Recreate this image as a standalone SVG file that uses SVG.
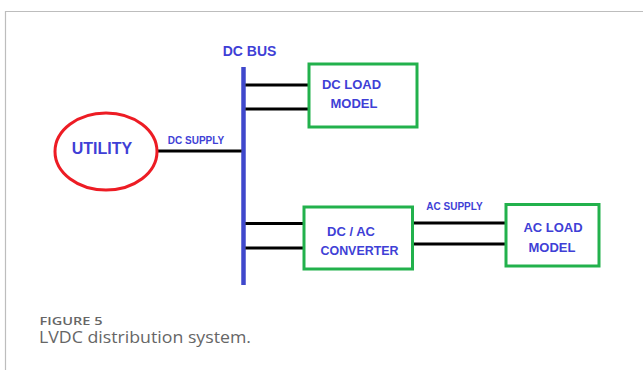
<svg xmlns="http://www.w3.org/2000/svg" width="643" height="370" viewBox="0 0 643 370">
  <style>
    .frame { stroke: #bdbdbd; stroke-width: 1.2; fill: none; }
    .wire { stroke: #000; stroke-width: 3; fill: none; }
    .bus { stroke: #3f48cc; stroke-width: 4.5; fill: none; }
    .box { stroke: #22b14c; stroke-width: 3; fill: #fff; }
    .src { stroke: #ed1c24; stroke-width: 3; fill: #fff; }
    .lbl { font-family: "Liberation Sans", Arial, sans-serif; font-weight: bold; fill: #3f3fd6; text-anchor: middle; }
    .cap { font-family: "Open Sans", "Liberation Sans", sans-serif; fill: #666; }
  </style>

  <!-- page frame -->
  <path class="frame" d="M5.5 370 V11.5 H643"/>

  <!-- connectors -->
  <g id="connectors">
    <line class="bus" x1="243.5" y1="67" x2="243.5" y2="285"/>
    <line class="wire" x1="157" y1="151" x2="241.5" y2="151"/>
    <line class="wire" x1="245.5" y1="85" x2="309" y2="85"/>
    <line class="wire" x1="245.5" y1="109" x2="309" y2="109"/>
    <line class="wire" x1="245.5" y1="223.5" x2="304" y2="223.5"/>
    <line class="wire" x1="245.5" y1="248" x2="304" y2="248"/>
    <line class="wire" x1="412" y1="223" x2="506" y2="223"/>
    <line class="wire" x1="412" y1="244" x2="506" y2="244"/>
    <text class="lbl" x="196" y="143.5" font-size="10">DC SUPPLY</text>
    <text class="lbl" x="454.5" y="210" font-size="10">AC SUPPLY</text>
    <text class="lbl" x="249.5" y="55.5" font-size="14">DC BUS</text>
  </g>

  <g id="utility">
    <ellipse class="src" cx="106" cy="151.5" rx="51" ry="38.5"/>
    <text class="lbl" x="102" y="154" font-size="16">UTILITY</text>
  </g>

  <g id="dc-load">
    <rect class="box" x="309" y="64" width="108" height="63"/>
    <text class="lbl" x="351.5" y="88.5" font-size="13">DC LOAD</text>
    <text class="lbl" x="354" y="107.5" font-size="13">MODEL</text>
  </g>

  <g id="converter">
    <rect class="box" x="304" y="207" width="108.5" height="62"/>
    <text class="lbl" x="351" y="235.5" font-size="13">DC / AC</text>
    <text class="lbl" x="359.5" y="255" font-size="13" textLength="78" lengthAdjust="spacingAndGlyphs">CONVERTER</text>
  </g>

  <g id="ac-load">
    <rect class="box" x="506" y="204.5" width="93" height="61.5"/>
    <text class="lbl" x="553" y="231.5" font-size="13">AC LOAD</text>
    <text class="lbl" x="552" y="251.5" font-size="13">MODEL</text>
  </g>

  <!-- caption -->
  <text class="cap" x="39.5" y="324.5" font-size="11.5" font-weight="600" textLength="63" lengthAdjust="spacingAndGlyphs">FIGURE 5</text>
  <text class="cap" x="39" y="343" font-size="16" textLength="212" lengthAdjust="spacingAndGlyphs">LVDC distribution system.</text>
</svg>
